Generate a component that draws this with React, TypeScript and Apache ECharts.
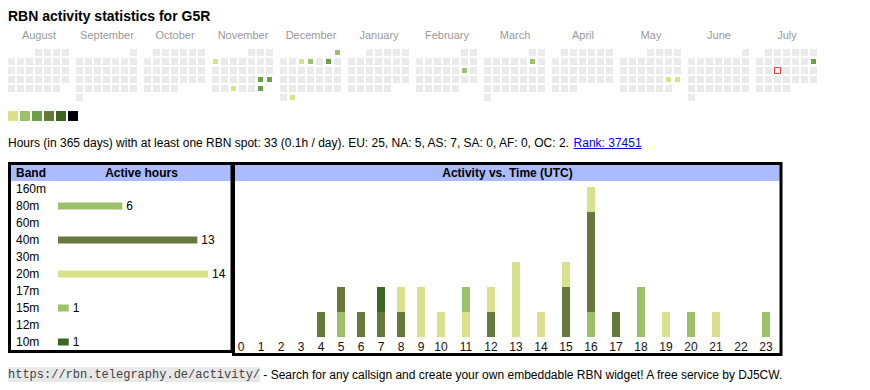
import React, { useEffect, useRef } from "react";
import * as echarts from "echarts";

const FONT = '"Liberation Sans", Arial, sans-serif';
const MONO = '"Liberation Mono", "Courier New", monospace';

const titleText = "RBN activity statistics for G5R";
const monthNames = ["August", "September", "October", "November", "December", "January", "February", "March", "April", "May", "June", "July"];
const monthKeys = ["2024-08", "2024-09", "2024-10", "2024-11", "2024-12", "2025-01", "2025-02", "2025-03", "2025-04", "2025-05", "2025-06", "2025-07"];
const dayValues: [string, number][] = [
  ["2024-11-04", 1], ["2024-11-23", 4], ["2024-11-24", 4], ["2024-11-27", 1], ["2024-11-30", 4],
  ["2024-12-01", 2], ["2024-12-04", 1], ["2024-12-05", 2], ["2024-12-07", 4], ["2024-12-31", 1],
  ["2025-02-15", 2], ["2025-03-08", 2], ["2025-05-24", 1], ["2025-05-25", 1], ["2025-07-13", 3],
];
const todayDate = "2025-07-16";
const legendColors = ["#d9e18a", "#9dc06b", "#6aa046", "#66793a", "#3b6624", "#000000"];

const summaryText = "Hours (in 365 days) with at least one RBN spot: 33 (0.1h / day). EU: 25, NA: 5, AS: 7, SA: 0, AF: 0, OC: 2. ";
const rankText = "Rank: 37451";

const bands = ["160m", "80m", "60m", "40m", "30m", "20m", "17m", "15m", "12m", "10m"];
const bandHours = [0, 6, 0, 13, 0, 14, 0, 1, 0, 1];

const hourLabels = ["0", "1", "2", "3", "4", "5", "6", "7", "8", "9", "10", "11", "12", "13", "14", "15", "16", "17", "18", "19", "20", "21", "22", "23"];
const activityBands = ["80m", "40m", "20m", "15m", "10m"];
const hours80m = [0, 0, 0, 0, 0, 1, 0, 0, 0, 0, 0, 0, 0, 0, 0, 0, 1, 0, 2, 0, 1, 0, 0, 1];
const hours40m = [0, 0, 0, 0, 1, 1, 1, 1, 1, 0, 0, 0, 1, 0, 0, 2, 4, 1, 0, 0, 0, 0, 0, 0];
const hours20m = [0, 0, 0, 0, 0, 0, 0, 0, 1, 2, 1, 1, 1, 3, 1, 1, 1, 0, 0, 1, 0, 1, 0, 0];
const hours15m = [0, 0, 0, 0, 0, 0, 0, 0, 0, 0, 0, 1, 0, 0, 0, 0, 0, 0, 0, 0, 0, 0, 0, 0];
const hours10m = [0, 0, 0, 0, 0, 0, 0, 1, 0, 0, 0, 0, 0, 0, 0, 0, 0, 0, 0, 0, 0, 0, 0, 0];
const activityData = [hours80m, hours40m, hours20m, hours15m, hours10m];

const bandColors: Record<string, string> = {
  "160m": "#3b6624", "80m": "#9dc06b", "60m": "#6aa046", "40m": "#66793a", "30m": "#3b6624",
  "20m": "#d9e18a", "17m": "#6aa046", "15m": "#9dc06b", "12m": "#66793a", "10m": "#3b6624",
};

const footerUrl = "https://rbn.telegraphy.de/activity/";
const footerText = " - Search for any callsign and create your own embeddable RBN widget! A free service by DJ5CW.";

function measure(text: string, font: string): number {
  const ctx = document.createElement("canvas").getContext("2d");
  if (!ctx) return text.length * 6;
  ctx.font = font;
  return ctx.measureText(text).width;
}

export default function App() {
  const ref = useRef<HTMLDivElement>(null);

  useEffect(() => {
    if (!ref.current) return;
    const chart = echarts.init(ref.current, undefined, { renderer: "svg" });

    const calendars = monthKeys.map((m, i) => ({
      orient: "vertical",
      range: m,
      left: 7 + i * 68,
      top: 48,
      cellSize: [9, 9],
      dayLabel: { show: false, firstDay: 1 },
      monthLabel: { show: false },
      yearLabel: { show: false },
      splitLine: { show: false },
      itemStyle: { color: "#ebebeb", borderColor: "#ffffff", borderWidth: 2 },
    }));

    const heatSeries = monthKeys.map((m, i) => ({
      type: "heatmap",
      coordinateSystem: "calendar",
      calendarIndex: i,
      data: dayValues.filter((d) => d[0].startsWith(m)),
      itemStyle: { borderColor: "#ffffff", borderWidth: 2 },
      emphasis: { disabled: true },
    }));

    const todaySeries = {
      type: "scatter",
      coordinateSystem: "calendar",
      calendarIndex: 11,
      symbol: "rect",
      symbolSize: 6,
      data: [[todayDate, 0]],
      itemStyle: { color: "#ffffff", borderColor: "#ff0000", borderWidth: 1 },
      z: 5,
    };

    const bandSeries = {
      type: "bar",
      xAxisIndex: 0,
      yAxisIndex: 0,
      barWidth: 7,
      data: bandHours.map((v, i) => ({ value: v, itemStyle: { color: bandColors[bands[i]] } })),
      label: {
        show: true,
        position: "right",
        distance: 4,
        fontSize: 12,
        fontFamily: FONT,
        color: "#000",
        formatter: (p: any) => (p.value > 0 ? String(p.value) : ""),
      },
    };

    const parts = [
      [0, 10],
      [10, 24],
    ];
    const actSeries: any[] = [];
    parts.forEach((pr, pi) => {
      activityBands.forEach((b, bi) => {
        actSeries.push({
          type: "bar",
          name: b,
          xAxisIndex: pi + 1,
          yAxisIndex: pi + 1,
          stack: "act" + pi,
          barWidth: 8,
          itemStyle: { color: bandColors[b] },
          data: activityData[bi].slice(pr[0], pr[1]),
        });
      });
    });

    const font12 = '12px "Liberation Sans"';
    const linkX = 8 + measure(summaryText, font12);
    const linkW = measure(rankText, font12);

    const graphic: any[] = [
      {
        type: "text", x: 8, y: 16,
        style: { text: titleText, font: 'bold 14px "Liberation Sans"', fill: "#000", verticalAlign: "middle" },
      },
      ...monthNames.map((n, i) => ({
        type: "text", x: 39 + i * 68, y: 35,
        style: { text: n, font: '11px "Liberation Sans"', fill: "#999", align: "center", verticalAlign: "middle" },
      })),
      {
        type: "text", x: 8, y: 142.5,
        style: {
          text: "{a|" + summaryText + "}{b|" + rankText + "}",
          font: font12,
          verticalAlign: "middle",
          rich: {
            a: { fill: "#000", fontSize: 12, fontFamily: FONT },
            b: { fill: "#0000ee", fontSize: 12, fontFamily: FONT },
          },
        },
      },
      {
        type: "line",
        shape: { x1: linkX, y1: 148.5, x2: linkX + linkW, y2: 148.5 },
        style: { stroke: "#0000ee", lineWidth: 1 },
      },
      { type: "rect", shape: { x: 11, y: 165, width: 220, height: 16 }, style: { fill: "#aabbff" } },
      { type: "rect", shape: { x: 235, y: 165, width: 545, height: 16 }, style: { fill: "#aabbff" } },
      { type: "rect", shape: { x: 9.5, y: 163.5, width: 222.5, height: 188 }, style: { fill: "none", stroke: "#000", lineWidth: 3 } },
      { type: "rect", shape: { x: 233.5, y: 163.5, width: 547.5, height: 191 }, style: { fill: "none", stroke: "#000", lineWidth: 3 } },
      {
        type: "text", x: 16, y: 173,
        style: { text: "Band", font: 'bold 12px "Liberation Sans"', fill: "#000", verticalAlign: "middle" },
      },
      {
        type: "text", x: 141.5, y: 173,
        style: { text: "Active hours", font: 'bold 12px "Liberation Sans"', fill: "#000", align: "center", verticalAlign: "middle" },
      },
      {
        type: "text", x: 507.5, y: 173,
        style: { text: "Activity vs. Time (UTC)", font: 'bold 12px "Liberation Sans"', fill: "#000", align: "center", verticalAlign: "middle" },
      },
      { type: "rect", shape: { x: 8, y: 367, width: 252, height: 15 }, style: { fill: "#e8e8e8" } },
      {
        type: "text", x: 8, y: 374.5,
        style: { text: footerUrl, font: '12px "Liberation Mono"', fill: "#444", verticalAlign: "middle" },
      },
      {
        type: "text", x: 260, y: 374.5,
        style: { text: footerText, font: font12, fill: "#000", verticalAlign: "middle" },
      },
    ];

    chart.setOption({
      animation: false,
      textStyle: { fontFamily: FONT },
      calendar: calendars,
      visualMap: {
        type: "piecewise",
        seriesIndex: monthKeys.map((_, i) => i),
        orient: "horizontal",
        left: 8,
        top: 111,
        padding: 0,
        itemWidth: 10,
        itemHeight: 10,
        itemGap: 2,
        itemSymbol: "rect",
        showLabel: false,
        hoverLink: false,
        pieces: [
          { value: 1, color: legendColors[0] },
          { value: 2, color: legendColors[1] },
          { gte: 3, lte: 5, color: legendColors[2] },
          { gte: 6, lte: 10, color: legendColors[3] },
          { gte: 11, lte: 20, color: legendColors[4] },
          { gte: 21, color: legendColors[5] },
        ],
      },
      grid: [
        { left: 58, top: 180.5, width: 150, height: 170 },
        { left: 231, top: 187, width: 200, height: 150 },
        { left: 428.5, top: 187, width: 350, height: 150 },
      ],
      xAxis: [
        { type: "value", gridIndex: 0, min: 0, max: 14, show: false },
        {
          type: "category", gridIndex: 1, data: hourLabels.slice(0, 10),
          axisLine: { show: false }, axisTick: { show: false },
          axisLabel: { interval: 0, margin: 4, fontSize: 12, color: "#111", fontFamily: FONT },
        },
        {
          type: "category", gridIndex: 2, data: hourLabels.slice(10),
          axisLine: { show: false }, axisTick: { show: false },
          axisLabel: { interval: 0, margin: 4, fontSize: 12, color: "#111", fontFamily: FONT },
        },
      ],
      yAxis: [
        {
          type: "category", gridIndex: 0, data: bands, inverse: true,
          axisLine: { show: false }, axisTick: { show: false },
          axisLabel: { align: "left", margin: 42, fontSize: 12, color: "#000", fontFamily: FONT },
        },
        { type: "value", gridIndex: 1, min: 0, max: 6, show: false },
        { type: "value", gridIndex: 2, min: 0, max: 6, show: false },
      ],
      series: [...heatSeries, todaySeries, bandSeries, ...actSeries],
      graphic,
    } as any);

    return () => chart.dispose();
  }, []);

  return (
    <div
      ref={ref}
      style={{ position: "fixed", left: 0, top: 0, width: 870, height: 390, background: "#fff" }}
    />
  );
}
